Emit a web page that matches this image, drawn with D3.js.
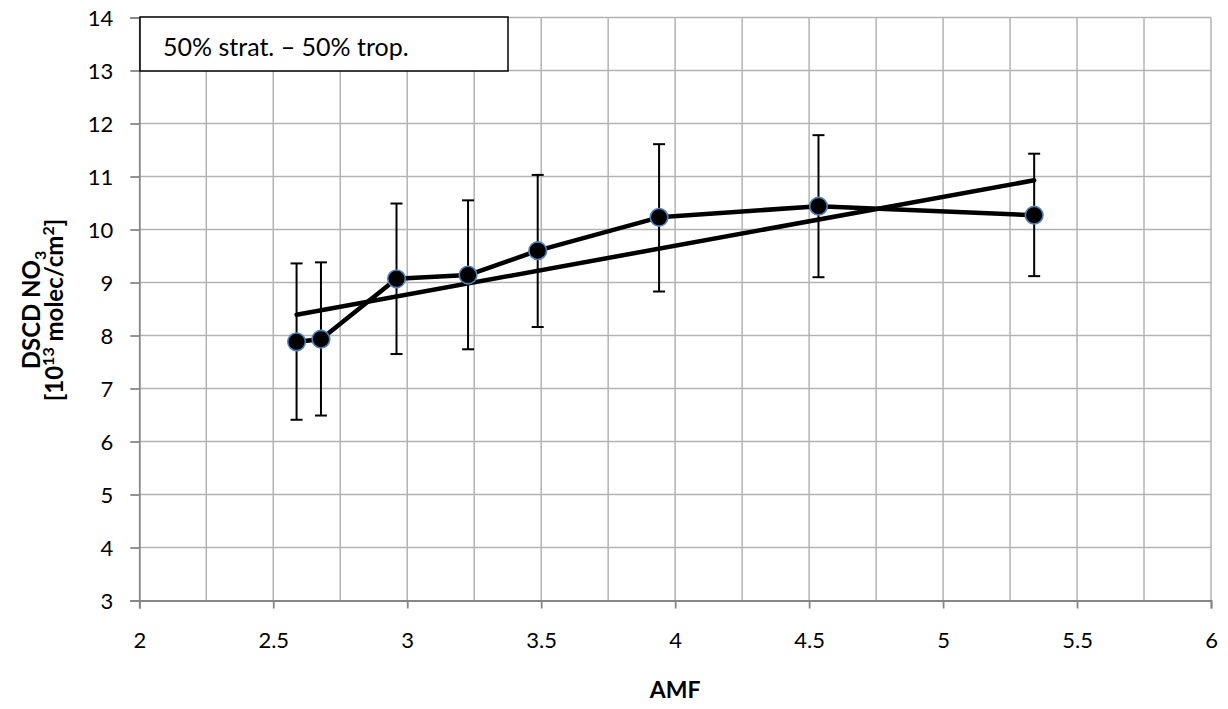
<!DOCTYPE html>
<html><head><meta charset="utf-8">
<script src="https://cdn.jsdelivr.net/npm/d3@7"></script>
<style>body{margin:0;background:#fff}svg{display:block;font-family:Lato,"Open Sans",sans-serif}</style>
</head><body>
<svg id="c" width="1228" height="709"></svg>
<script>
const amf   = [2.587, 2.678, 2.96, 3.227, 3.487, 3.94, 4.535, 5.34];
const dscd  = [7.88, 7.93, 9.07, 9.14, 9.60, 10.23, 10.44, 10.27];
const errLo = [6.41, 6.49, 7.65, 7.74, 8.16, 8.83, 9.10, 9.12];
const errHi = [9.36, 9.38, 10.49, 10.55, 11.03, 11.61, 11.78, 11.43];
const xTicks = [2, 2.5, 3, 3.5, 4, 4.5, 5, 5.5, 6];
const yTicks = [3,4,5,6,7,8,9,10,11,12,13,14];
const legendText = "50% strat. \u2013 50% trop.";

const svg = d3.select("#c");
const L=139.3, R=1211, T=17.5, B=600.5;
const x = d3.scaleLinear().domain([2,6]).range([L,R]);
const y = d3.scaleLinear().domain([3,14]).range([B,T]);
const FONT = "Lato,'Open Sans',sans-serif";

// gridlines
const g = svg.append("g");
g.selectAll(".vg").data(d3.range(2.25,6.01,0.25)).join("line")
 .attr("x1",d=>x(d)).attr("x2",d=>x(d)).attr("y1",T).attr("y2",B)
 .attr("stroke","#b3b3b3").attr("stroke-width",1.5);
g.selectAll(".hg").data(yTicks.slice(1)).join("line")
 .attr("x1",L).attr("x2",R).attr("y1",d=>y(d)).attr("y2",d=>y(d))
 .attr("stroke","#b3b3b3").attr("stroke-width",1.5);

// axes
const xa = svg.append("g").attr("transform",`translate(0,${B})`)
 .call(d3.axisBottom(x).tickValues(xTicks).tickSize(8).tickPadding(24).tickFormat(d3.format("")));
const ya = svg.append("g").attr("transform",`translate(${L},0)`)
 .call(d3.axisLeft(y).tickValues(yTicks).tickSize(9).tickPadding(17).tickFormat(d3.format("d")));
[xa,ya].forEach(a=>{
  a.attr("font-size",22).attr("font-family",FONT);
  a.select(".domain").attr("stroke","#868686").attr("stroke-width",1.8);
  a.selectAll(".tick line").attr("stroke","#868686").attr("stroke-width",1.8);
  a.selectAll("text").attr("font-size",22).attr("fill","#000");
});
ya.selectAll("text").attr("dy","0.35em");

// trend line (linear regression)
const mx=d3.mean(amf), my=d3.mean(dscd);
const slope=d3.sum(amf.map((v,i)=>(v-mx)*(dscd[i]-my)))/d3.sum(amf.map(v=>(v-mx)**2));
const icpt=my-slope*mx;
const x0=d3.min(amf), x1=d3.max(amf);
svg.append("line").attr("x1",x(x0)).attr("y1",y(icpt+slope*x0))
 .attr("x2",x(x1)).attr("y2",y(icpt+slope*x1))
 .attr("stroke","#000").attr("stroke-width",4.5).attr("stroke-linecap","round");

// error bars
const eb = svg.append("g").attr("stroke","#000").attr("stroke-width",2);
amf.forEach((v,i)=>{
  eb.append("line").attr("x1",x(v)).attr("x2",x(v)).attr("y1",y(errLo[i])).attr("y2",y(errHi[i]));
  [errLo[i],errHi[i]].forEach(e=>eb.append("line").attr("x1",x(v)-6).attr("x2",x(v)+6).attr("y1",y(e)).attr("y2",y(e)));
});

// data line
const pts = amf.map((v,i)=>[v,dscd[i]]);
svg.append("path").datum(pts)
 .attr("d",d3.line().x(d=>x(d[0])).y(d=>y(d[1])))
 .attr("fill","none").attr("stroke","#000").attr("stroke-width",4.5).attr("stroke-linejoin","round");
svg.selectAll(".pt").data(pts).join("circle")
 .attr("cx",d=>x(d[0])).attr("cy",d=>y(d[1])).attr("r",8.8)
 .attr("fill","#000").attr("stroke","#4f81bd").attr("stroke-width",1.6);

// legend box
svg.append("rect").attr("x",140).attr("y",17).attr("width",368).attr("height",54)
 .attr("fill","#fff").attr("stroke","#000").attr("stroke-width",1.5);
svg.append("text").attr("x",163).attr("y",56).attr("font-size",25).text(legendText);

// axis titles
svg.append("text").attr("x",x(4)).attr("y",698).attr("text-anchor","middle")
 .attr("font-size",23).attr("font-weight","bold").text("AMF");
const yt = svg.append("text").attr("transform","translate(40,310) rotate(-90)")
 .attr("text-anchor","middle").attr("font-size",24).attr("font-weight","bold");
yt.append("tspan").text("DSCD NO");
yt.append("tspan").attr("font-size",16).attr("dy",6).text("3");
const l2 = svg.append("text").attr("transform","translate(63,310) rotate(-90)")
 .attr("text-anchor","middle").attr("font-size",24).attr("font-weight","bold");
l2.append("tspan").text("[10");
l2.append("tspan").attr("font-size",16).attr("dy",-9).text("13");
l2.append("tspan").attr("dy",9).text(" molec/cm");
l2.append("tspan").attr("font-size",16).attr("dy",-9).text("2");
l2.append("tspan").attr("dy",9).text("]");
</script>
</body></html>
